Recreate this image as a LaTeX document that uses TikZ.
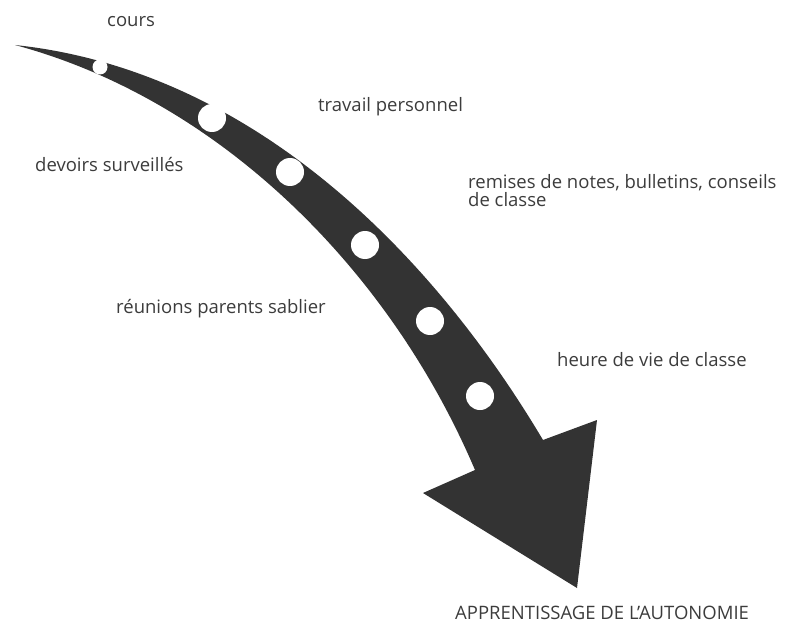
\documentclass[tikz,border=0pt]{standalone}
\usepackage{fontspec}
\setmainfont{Open Sans}
\begin{document}
\begin{tikzpicture}[x=1bp,y=-1bp,
  lbl/.style={anchor=base west,inner sep=0pt,text=txtgray,font=\fontsize{18.5bp}{18bp}\selectfont,align=left},
  hole/.style={circle,fill=white,draw=none,inner sep=0pt,minimum size=#1}]
\definecolor{arrowgray}{HTML}{333333}
\definecolor{txtgray}{HTML}{3C3C3C}
\useasboundingbox (0,0) rectangle (790,625);
% arrow body
\fill[arrowgray] (15,45) .. controls (250,70) and (430,250) .. (543,440)
  -- (597,420) -- (577,588) -- (423,493) -- (475,470)
  .. controls (390,270) and (220,100) .. (15,45) -- cycle;
% holes
\node[hole=15bp] (h1) at (100,67) {};
\node[hole=28bp] (h2) at (212,118) {};
\node[hole=28bp] (h3) at (290,172) {};
\node[hole=28bp] (h4) at (365,245) {};
\node[hole=28bp] (h5) at (430,321) {};
\node[hole=28bp] (h6) at (480,396) {};
% labels
\node[lbl] (t1) at (107,27) {cours};
\node[lbl] (t2) at (318,112) {travail personnel};
\node[lbl] (t3) at (35,172) {devoirs surveillés};
\node[lbl] (t4) at (468,207) {remises de notes, bulletins, conseils\\de classe};
\node[lbl] (t5) at (116,313) {réunions parents sablier};
\node[lbl] (t6) at (557,366) {heure de vie de classe};
\node[lbl] (t7) at (455,619) {APPRENTISSAGE DE L’AUTONOMIE};
\end{tikzpicture}
\end{document}
